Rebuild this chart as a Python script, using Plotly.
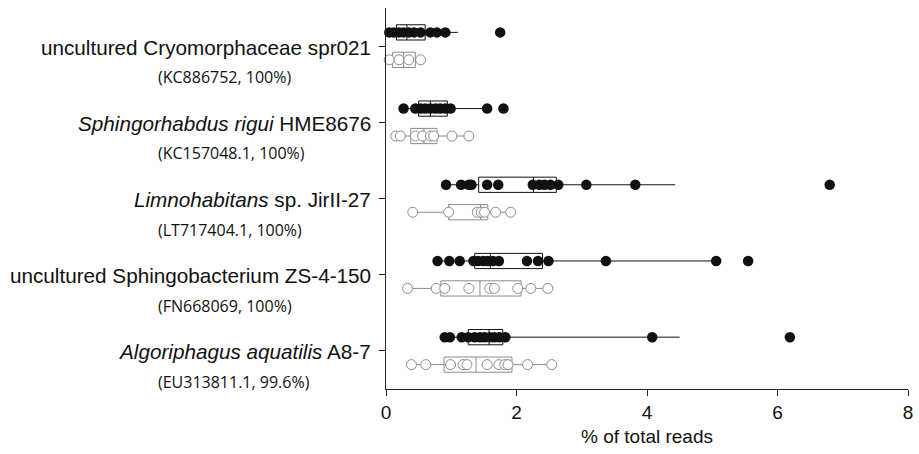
import plotly.graph_objects as go

# Categories (top to bottom)
main_labels = [
    "uncultured Cryomorphaceae spr021",
    "<i>Sphingorhabdus rigui</i> HME8676",
    "<i>Limnohabitans</i> sp. JirII-27",
    "uncultured Sphingobacterium ZS-4-150",
    "<i>Algoriphagus aquatilis</i> A8-7",
]
sub_labels = [
    "(KC886752, 100%)",
    "(KC157048.1, 100%)",
    "(LT717404.1, 100%)",
    "(FN668069, 100%)",
    "(EU313811.1, 99.6%)",
]

# Black (filled) series: individual points
black_points = [
    [0.05, 0.12, 0.20, 0.27, 0.35, 0.43, 0.53, 0.68, 0.78, 0.91, 1.75],
    [0.27, 0.45, 0.53, 0.60, 0.68, 0.76, 0.83, 0.91, 0.99, 1.55, 1.80],
    [0.92, 1.15, 1.27, 1.31, 1.55, 1.72, 2.25, 2.35, 2.43, 2.52, 2.64, 3.07, 3.82, 6.80],
    [0.79, 0.97, 1.13, 1.34, 1.41, 1.49, 1.56, 1.64, 1.73, 2.16, 2.33, 2.49, 3.37, 5.06, 5.55],
    [0.90, 0.98, 1.16, 1.26, 1.36, 1.44, 1.51, 1.59, 1.66, 1.74, 1.83, 4.08, 6.19],
]
# Black series box statistics
black_q1 = [0.16, 0.50, 1.42, 1.36, 1.26]
black_med = [0.32, 0.68, 2.26, 1.60, 1.58]
black_q3 = [0.60, 0.94, 2.61, 2.40, 1.79]
black_lo = [0.05, 0.27, 0.92, 0.79, 0.90]
black_hi = [1.10, 1.55, 4.43, 5.06, 4.50]

# Open (white) series: individual points
white_points = [
    [0.05, 0.20, 0.35, 0.53],
    [0.15, 0.22, 0.45, 0.56, 0.68, 0.73, 1.01, 1.27],
    [0.41, 0.96, 1.40, 1.46, 1.51, 1.68, 1.91],
    [0.33, 0.77, 0.90, 1.27, 1.59, 1.66, 2.02, 2.22, 2.48],
    [0.39, 0.61, 0.99, 1.18, 1.24, 1.55, 1.73, 1.82, 1.87, 2.17, 2.54],
]
white_q1 = [0.10, 0.38, 0.96, 0.84, 0.89]
white_med = [0.27, 0.58, 1.45, 1.44, 1.38]
white_q3 = [0.45, 0.78, 1.56, 2.07, 1.93]
white_lo = [0.05, 0.15, 0.41, 0.33, 0.39]
white_hi = [0.53, 1.27, 1.91, 2.48, 2.54]

x_ticks = [0, 2, 4, 6, 8]
x_title = "% of total reads"

BLACK = "#111111"
GRAY = "#8c8c8c"
OFF = 0.18

fig = go.Figure()

for i in range(len(main_labels)):
    yb = i - OFF
    yw = i + OFF
    fig.add_trace(go.Box(
        orientation="h", y=[yb], q1=[black_q1[i]], median=[black_med[i]],
        q3=[black_q3[i]], lowerfence=[black_lo[i]], upperfence=[black_hi[i]],
        width=0.2, whiskerwidth=0, boxpoints=False,
        fillcolor="rgba(0,0,0,0)", line=dict(color=BLACK, width=1),
        showlegend=False, hoverinfo="skip"))
    fig.add_trace(go.Box(
        orientation="h", y=[yw], q1=[white_q1[i]], median=[white_med[i]],
        q3=[white_q3[i]], lowerfence=[white_lo[i]], upperfence=[white_hi[i]],
        width=0.2, whiskerwidth=0, boxpoints=False,
        fillcolor="rgba(0,0,0,0)", line=dict(color=GRAY, width=1),
        showlegend=False, hoverinfo="skip"))

for i in range(len(main_labels)):
    fig.add_trace(go.Scatter(
        x=black_points[i], y=[i - OFF] * len(black_points[i]), mode="markers",
        marker=dict(size=10.5, color=BLACK, line=dict(width=0)),
        cliponaxis=False, showlegend=False))
    fig.add_trace(go.Scatter(
        x=white_points[i], y=[i + OFF] * len(white_points[i]), mode="markers",
        marker=dict(size=10, color="white", line=dict(width=1, color=GRAY)),
        cliponaxis=False, showlegend=False))

annotations = []
for i in range(len(main_labels)):
    annotations.append(dict(
        x=0, xref="paper", y=i, yref="y", xanchor="right", yanchor="middle",
        xshift=-13, yshift=-1, text=main_labels[i], showarrow=False,
        font=dict(family="Liberation Sans, Arial", size=20.7, color="#111")))
    annotations.append(dict(
        x=0, xref="paper", y=i, yref="y", xanchor="left", yanchor="middle",
        xshift=-230, yshift=-31, text=sub_labels[i], showarrow=False,
        font=dict(family="Open Sans", size=16, color="#111")))

fig.update_layout(
    width=919, height=454,
    margin=dict(l=386, r=6, t=8, b=65),
    paper_bgcolor="white", plot_bgcolor="white",
    boxmode="overlay",
    annotations=annotations,
    xaxis=dict(
        range=[0, 8], tickvals=x_ticks, ticktext=[str(t) for t in x_ticks],
        ticks="outside", ticklen=6, tickcolor="#222", showline=True,
        linecolor="#222", linewidth=1, showgrid=False, zeroline=False,
        tickfont=dict(family="Liberation Sans, Arial", size=19, color="#111"),
        title=dict(text=x_title, standoff=7,
                   font=dict(family="Liberation Sans, Arial", size=19, color="#111")),
    ),
    yaxis=dict(
        range=[4.5, -0.5], tickvals=list(range(len(main_labels))),
        showticklabels=False, ticks="outside", ticklen=6, tickcolor="#222",
        showline=True, linecolor="#222", linewidth=1, showgrid=False,
        zeroline=False,
    ),
)

fig.write_html("out.html")
